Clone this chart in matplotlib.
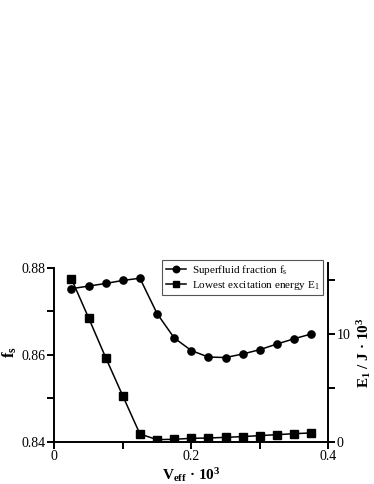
import numpy as np
import matplotlib
matplotlib.use("Agg")
import matplotlib.pyplot as plt
from matplotlib.ticker import FixedLocator, FixedFormatter

plt.rcParams["font.family"] = ["Liberation Serif", "DejaVu Serif"]
plt.rcParams["mathtext.fontset"] = "custom"
plt.rcParams["mathtext.rm"] = "Liberation Serif"
plt.rcParams["mathtext.it"] = "Liberation Serif:italic"
plt.rcParams["mathtext.bf"] = "Liberation Serif:bold"

# data
v_eff = [0.025, 0.05, 0.075, 0.10, 0.125, 0.15, 0.175, 0.20,
         0.225, 0.25, 0.275, 0.30, 0.325, 0.35, 0.375]
f_s = [0.8752, 0.8758, 0.8764, 0.8771, 0.8776, 0.8695, 0.8639, 0.8610,
       0.8595, 0.8594, 0.8602, 0.8612, 0.8625, 0.8637, 0.8648]
e_1 = [15.14, 11.52, 7.83, 4.27, 0.74, 0.22, 0.25, 0.34,
       0.37, 0.43, 0.50, 0.59, 0.68, 0.77, 0.84]

x_ticks = [0, 0.1, 0.2, 0.3, 0.4]
x_labels = ["0", "", "0.2", "", "0.4"]
fs_ticks = [0.84, 0.85, 0.86, 0.87, 0.88]
fs_labels = ["0.84", "", "0.86", "", "0.88"]
e_ticks = [0, 5, 10, 15]
e_labels = ["0", "", "10", ""]

fig = plt.figure(figsize=(3.74, 4.84), dpi=100)
ax = fig.add_axes([0.1452, 0.0868, 0.7326, 0.3698])
ax2 = ax.twinx()

l1, = ax.plot(v_eff, f_s, "-o", color="black", lw=1.1, ms=5.2)
l2, = ax2.plot(v_eff, e_1, "-s", color="black", lw=1.1, ms=5.2)

ax.set_xlim(0, 0.4)
ax.set_ylim(0.84, 0.8811)
ax2.set_ylim(0, 16.6)

ax.xaxis.set_major_locator(FixedLocator(x_ticks))
ax.xaxis.set_major_formatter(FixedFormatter(x_labels))
ax.yaxis.set_major_locator(FixedLocator(fs_ticks))
ax.yaxis.set_major_formatter(FixedFormatter(fs_labels))
ax2.yaxis.set_major_locator(FixedLocator(e_ticks))
ax2.yaxis.set_major_formatter(FixedFormatter(e_labels))

for a in (ax, ax2):
    a.spines["top"].set_visible(False)
    for s in a.spines.values():
        s.set_linewidth(1.4)
    a.tick_params(direction="out", width=1.4, length=5, labelsize=10, pad=1)
ax.spines["right"].set_visible(False)
ax2.spines["left"].set_visible(False)
ax2.spines["bottom"].set_visible(False)
ax.spines["left"].set_bounds(0.84, 0.88)

ax.set_xlabel(r"$\mathbf{V_{eff}}$ · $\mathbf{10^3}$", fontsize=11,
              fontweight="bold", labelpad=2)
ax.set_ylabel(r"$\mathbf{f_s}$", fontsize=12, labelpad=2)
ax2.set_ylabel(r"$\mathbf{E_1}$ / J · $\mathbf{10^3}$", fontsize=11,
               fontweight="bold", labelpad=3)

leg = ax.legend([l1, l2],
                [r"Superfluid fraction f$_\mathrm{s}$",
                 r"Lowest excitation energy E$_\mathrm{1}$"],
                loc="upper right", bbox_to_anchor=(0.864, 0.463),
                bbox_transform=fig.transFigure, borderaxespad=0,
                fontsize=8, fancybox=False, framealpha=1,
                edgecolor="#555555", handlelength=1.8, borderpad=0.3,
                labelspacing=0.15, handletextpad=0.6, markerscale=0.9)
leg.get_frame().set_linewidth(0.8)

fig.savefig("out.png", dpi=100)
